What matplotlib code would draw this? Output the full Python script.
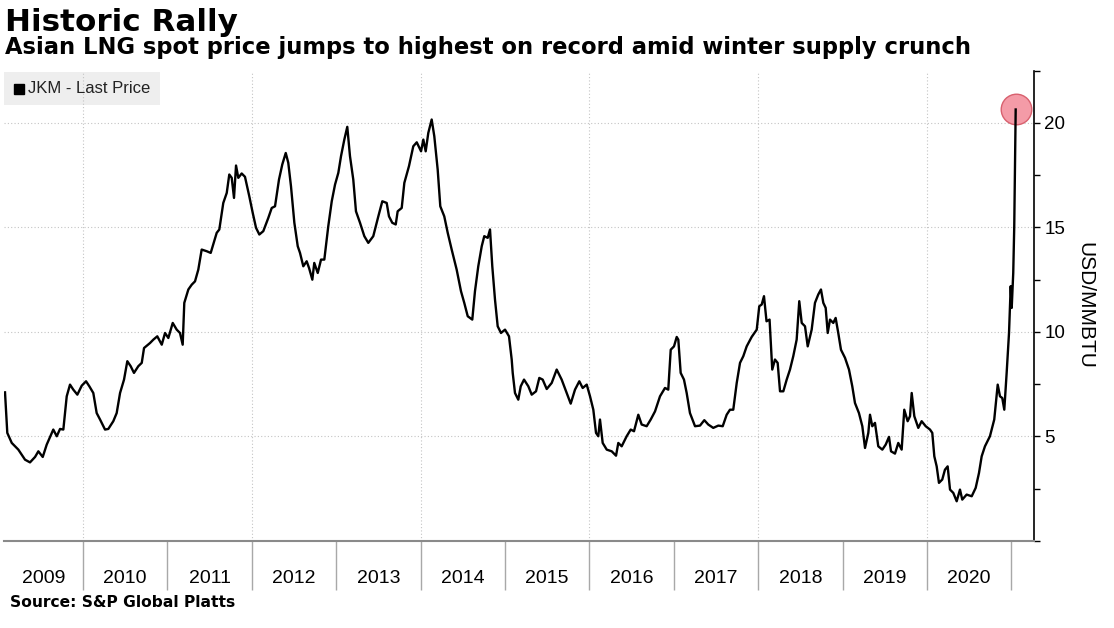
import matplotlib
matplotlib.use("Agg")
import matplotlib.pyplot as plt
from matplotlib.patches import Rectangle

# JKM spot price (decimal year, USD/MMBTU)
week = [2009.077, 2009.104, 2009.157, 2009.196, 2009.235, 2009.314, 2009.373, 2009.433, 2009.472, 2009.524,
        2009.571, 2009.649, 2009.690, 2009.729, 2009.768, 2009.808, 2009.847, 2009.886, 2009.934, 2009.986,
        2010.037, 2010.076, 2010.123, 2010.163, 2010.203, 2010.262, 2010.301, 2010.360, 2010.400, 2010.440,
        2010.487, 2010.526, 2010.566, 2010.605, 2010.656, 2010.697, 2010.724, 2010.795, 2010.834, 2010.881,
        2010.934, 2010.973, 2011.012, 2011.064, 2011.111, 2011.150, 2011.182, 2011.201, 2011.249, 2011.289,
        2011.328, 2011.367, 2011.407, 2011.467, 2011.514, 2011.585, 2011.616, 2011.663, 2011.704, 2011.734,
        2011.763, 2011.790, 2011.814, 2011.841, 2011.881, 2011.920, 2011.971, 2012.012, 2012.051, 2012.090,
        2012.137, 2012.196, 2012.237, 2012.276, 2012.323, 2012.362, 2012.403, 2012.433, 2012.465, 2012.505,
        2012.545, 2012.572, 2012.611, 2012.651, 2012.679, 2012.718, 2012.741, 2012.782, 2012.821, 2012.860,
        2012.907, 2012.948, 2012.987, 2013.026, 2013.058, 2013.097, 2013.132, 2013.164, 2013.203, 2013.235,
        2013.283, 2013.334, 2013.381, 2013.440, 2013.500, 2013.547, 2013.599, 2013.626, 2013.665, 2013.706,
        2013.729, 2013.777, 2013.808, 2013.863, 2013.914, 2013.955, 2014.006, 2014.033, 2014.061, 2014.092,
        2014.132, 2014.163, 2014.203, 2014.234, 2014.281, 2014.322, 2014.369, 2014.428, 2014.479, 2014.518,
        2014.559, 2014.613, 2014.645, 2014.684, 2014.725, 2014.755, 2014.796, 2014.823, 2014.850, 2014.882,
        2014.914, 2014.953, 2015.001, 2015.048, 2015.080, 2015.092, 2015.119, 2015.158, 2015.187, 2015.226,
        2015.277, 2015.317, 2015.368, 2015.407, 2015.447, 2015.495, 2015.554, 2015.613, 2015.672, 2015.732,
        2015.779, 2015.830, 2015.881, 2015.921, 2015.969, 2016.008, 2016.047, 2016.079, 2016.106, 2016.126,
        2016.158, 2016.206, 2016.265, 2016.316, 2016.343, 2016.383, 2016.442, 2016.490, 2016.529, 2016.580,
        2016.620, 2016.679, 2016.727, 2016.778, 2016.837, 2016.896, 2016.935, 2016.964, 2017.003, 2017.035,
        2017.054, 2017.082, 2017.121, 2017.153, 2017.192, 2017.252, 2017.311, 2017.362, 2017.409, 2017.468,
        2017.528, 2017.580, 2017.627, 2017.666, 2017.705, 2017.746, 2017.785, 2017.824, 2017.864, 2017.923,
        2017.983, 2018.013, 2018.042, 2018.069, 2018.099, 2018.135, 2018.167, 2018.199, 2018.231, 2018.259,
        2018.298, 2018.338, 2018.377, 2018.416, 2018.456, 2018.487, 2018.516, 2018.555, 2018.587, 2018.634,
        2018.673, 2018.712, 2018.744, 2018.772, 2018.800, 2018.824, 2018.851, 2018.890, 2018.918, 2018.949,
        2018.981, 2019.029, 2019.076, 2019.115, 2019.147, 2019.194, 2019.234, 2019.266, 2019.305, 2019.325,
        2019.352, 2019.384, 2019.423, 2019.471, 2019.511, 2019.550, 2019.574, 2019.621, 2019.660, 2019.700,
        2019.731, 2019.771, 2019.799, 2019.819, 2019.850, 2019.897, 2019.937, 2019.985, 2020.036, 2020.063,
        2020.087, 2020.115, 2020.142, 2020.181, 2020.213, 2020.245, 2020.273, 2020.312, 2020.352, 2020.391,
        2020.418, 2020.470, 2020.530, 2020.577, 2020.616, 2020.648, 2020.687, 2020.746, 2020.797, 2020.838,
        2020.865, 2020.892, 2020.916, 2020.944, 2020.972, 2020.992, 2021.004, 2021.022, 2021.034, 2021.051]

jkm = [7.11, 5.17, 4.69, 4.53, 4.37, 3.89, 3.76, 4.02, 4.29, 4.02,
       4.61, 5.33, 5.01, 5.36, 5.33, 6.92, 7.48, 7.24, 7.00, 7.43,
       7.64, 7.40, 7.08, 6.12, 5.81, 5.33, 5.36, 5.73, 6.12, 7.08,
       7.72, 8.60, 8.36, 8.04, 8.36, 8.52, 9.23, 9.47, 9.63, 9.79,
       9.39, 9.95, 9.71, 10.43, 10.11, 9.95, 9.39, 11.39, 12.03, 12.26,
       12.42, 12.98, 13.94, 13.86, 13.78, 14.74, 14.90, 16.17, 16.65, 17.53,
       17.37, 16.41, 17.96, 17.37, 17.58, 17.42, 16.49, 15.69, 14.98, 14.66,
       14.82, 15.45, 15.93, 16.01, 17.29, 18.01, 18.56, 18.09, 16.97, 15.22,
       14.10, 13.78, 13.14, 13.38, 13.06, 12.50, 13.30, 12.82, 13.46, 13.46,
       15.06, 16.25, 17.05, 17.61, 18.41, 19.20, 19.81, 18.41, 17.29, 15.77,
       15.22, 14.58, 14.26, 14.58, 15.53, 16.25, 16.17, 15.53, 15.22, 15.14,
       15.77, 15.93, 17.13, 17.93, 18.88, 19.07, 18.64, 19.20, 18.64, 19.52,
       20.16, 19.36, 17.77, 16.01, 15.53, 14.74, 13.94, 12.98, 11.95, 11.39,
       10.75, 10.59, 11.95, 13.14, 14.10, 14.58, 14.50, 14.90, 13.14, 11.55,
       10.27, 9.95, 10.11, 9.79, 8.68, 8.04, 7.08, 6.76, 7.40, 7.72,
       7.40, 7.00, 7.16, 7.80, 7.72, 7.27, 7.56, 8.20, 7.72, 7.08,
       6.57, 7.24, 7.64, 7.32, 7.48, 6.92, 6.28, 5.17, 5.01, 5.81,
       4.69, 4.37, 4.29, 4.08, 4.69, 4.53, 5.01, 5.33, 5.25, 6.04,
       5.57, 5.49, 5.81, 6.20, 6.92, 7.32, 7.24, 9.15, 9.31, 9.76,
       9.63, 8.04, 7.72, 7.08, 6.12, 5.49, 5.52, 5.78, 5.57, 5.41,
       5.52, 5.49, 6.04, 6.28, 6.28, 7.56, 8.52, 8.84, 9.31, 9.76,
       10.11, 11.23, 11.31, 11.71, 10.51, 10.59, 8.20, 8.68, 8.52, 7.16,
       7.16, 7.72, 8.20, 8.84, 9.63, 11.47, 10.43, 10.27, 9.31, 10.11,
       11.39, 11.79, 12.03, 11.39, 11.15, 9.95, 10.59, 10.43, 10.67, 9.95,
       9.15, 8.76, 8.20, 7.40, 6.60, 6.12, 5.49, 4.45, 5.17, 6.04,
       5.49, 5.65, 4.53, 4.37, 4.61, 4.98, 4.29, 4.18, 4.69, 4.37,
       6.28, 5.73, 5.97, 7.08, 5.97, 5.41, 5.73, 5.49, 5.33, 5.17,
       4.05, 3.57, 2.78, 2.94, 3.41, 3.57, 2.46, 2.30, 1.90, 2.46,
       1.98, 2.22, 2.14, 2.54, 3.25, 4.05, 4.53, 5.01, 5.81, 7.48,
       6.92, 6.84, 6.28, 8.04, 9.95, 12.19, 11.15, 12.82, 15.06, 20.64]

years = list(range(2009, 2021))
year_labels = [str(y) for y in years]
y_ticks = [5, 10, 15, 20]

plt.rcParams['font.family'] = ['Liberation Sans', 'DejaVu Sans']

W, H = 1114, 628
fig = plt.figure(figsize=(W / 100, H / 100), dpi=100)
ax = fig.add_axes([4 / W, 1 - 541 / H, 1030 / W, 470.4 / H])

x_left, x_right = 2009.065, 2021.268
ax.plot(week, jkm, color='black', lw=1.7, zorder=3, solid_joinstyle='round')
ax.plot(week[-1], jkm[-1], 'o', ms=22, mfc='#f49ba7', mec='#d8606e', mew=1, zorder=2, clip_on=False)
ax.set_xlim(x_left, x_right)
ax.set_ylim(0, 22.5)

# y axis on the right
ax.yaxis.tick_right()
ax.set_yticks(y_ticks)
ax.set_yticks([0, 2.5, 7.5, 12.5, 17.5, 22.5], minor=True)
ax.tick_params(axis='y', which='both', direction='out', length=4.5, width=1, pad=3,
               labelsize=13.5, colors='black')
ax.yaxis.set_label_position('right')
ax.set_ylabel('USD/MMBTU', rotation=270, fontsize=15, va='center', ha='center')
ax.yaxis.set_label_coords(1.0495, 0.5)

# x axis: separators at year starts, labels in the middle of each year
ax.set_xticks(list(range(2010, 2022)))
ax.set_xticklabels([])
label_pos = [(x_left + 2010) / 2] + [y + 0.5 for y in years[1:]]
ax.set_xticks(label_pos, minor=True)
ax.set_xticklabels(year_labels, minor=True)
ax.tick_params(axis='x', which='major', direction='out', length=35, width=1, color='#a8a8a8')
ax.tick_params(axis='x', which='minor', length=0, pad=21, labelsize=14)

ax.grid(axis='y', which='major', ls=(0, (1, 2)), color='#c4c4c4', lw=0.8)
for y in range(2010, 2021, 2):
    ax.axvline(y, ls=(0, (1, 2)), color='#c4c4c4', lw=0.8, zorder=1)
ax.set_axisbelow(True)

for side in ['left', 'top']:
    ax.spines[side].set_visible(False)
ax.spines['bottom'].set_color('#8a8a8a')
ax.spines['bottom'].set_linewidth(1.5)
ax.spines['right'].set_color('black')
ax.spines['right'].set_linewidth(1.2)

# legend box
ax.add_patch(Rectangle((4 / W, 1 - 105 / H), 156 / W, 33 / H, transform=fig.transFigure,
                       facecolor='#eeeeee', edgecolor='none', zorder=0.5, clip_on=False))
ax.plot([19 / W], [1 - 88.5 / H], marker='s', ms=7, color='black', transform=fig.transFigure,
        clip_on=False, zorder=4)
fig.text(28 / W, 1 - 88.5 / H, 'JKM - Last Price', fontsize=12, va='center', color='#222222')

fig.text(5 / W, 1 - 31 / H, 'Historic Rally', fontsize=22.3, fontweight='bold',
         family='DejaVu Sans', va='baseline')
fig.text(5 / W, 1 - 53.6 / H, 'Asian LNG spot price jumps to highest on record amid winter supply crunch',
         fontsize=16.3, fontweight='bold', family='DejaVu Sans', va='baseline')
fig.text(10 / W, 1 - 606.7 / H, 'Source: S&P Global Platts', fontsize=11.2, fontweight='bold',
         family='DejaVu Sans', va='baseline')

fig.savefig('out.png', dpi=100)
